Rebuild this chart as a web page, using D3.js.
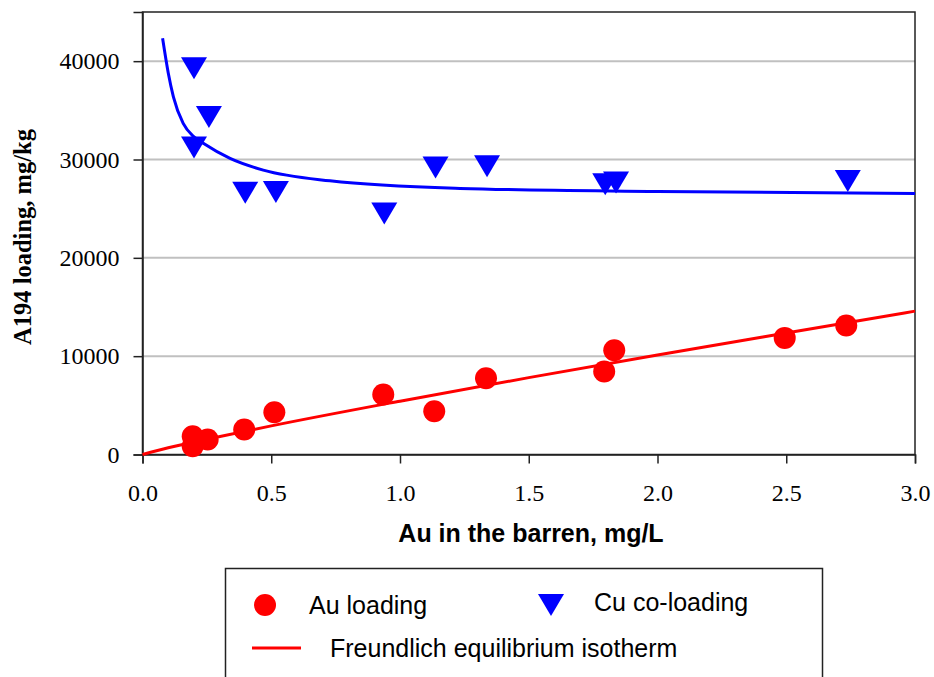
<!DOCTYPE html>
<html>
<head>
<meta charset="utf-8">
<script src="https://d3js.org/d3.v7.min.js"></script>
<style>
  body { margin: 0; background: #fff; }
  svg { display: block; }
</style>
</head>
<body>
<div id="chart"></div>
<script>
// Au loading (red circles)
const auX = [0.195, 0.195, 0.253, 0.395, 0.512, 0.935, 1.133, 1.334, 1.793, 1.832, 2.494, 2.733];
const auY = [1860, 845, 1525, 2540, 4300, 6100, 4400, 7760, 8440, 10610, 11860, 13120];
// Cu co-loading (blue triangles)
const cuX = [0.2, 0.258, 0.2, 0.399, 0.518, 0.939, 1.138, 1.338, 1.797, 1.839, 2.739];
const cuY = [39270, 34330, 31210, 26630, 26700, 24520, 29180, 29310, 27480, 27650, 27820];
// isotherm curves
const auFitX = [0, 0.1, 0.25, 0.5, 1.0, 1.5, 2.0, 2.5, 3.0];
const auFitY = [0, 680, 1550, 2910, 5424, 7820, 10120, 12360, 14580];
const cuFitX = [0.078, 0.1, 0.12, 0.158, 0.2, 0.236, 0.34, 0.469, 0.728, 1.233, 2.0, 3.0];
const cuFitY = [42320, 38800, 36380, 33670, 32300, 31640, 30110, 28920, 27830, 27060, 26750, 26550];
const xTicks = [0, 0.5, 1, 1.5, 2, 2.5, 3];
const yTicks = [0, 10000, 20000, 30000, 40000];

const W = 934, H = 677;
const m = {left: 142.5, right: 934 - 915, top: 12, bottom: 677 - 454.5};

const svg = d3.select('#chart').append('svg').attr('width', W).attr('height', H);

const x = d3.scaleLinear().domain([0, 3]).range([m.left, W - m.right]);
const y = d3.scaleLinear().domain([0, 45000]).range([H - m.bottom, m.top]);

// gridlines
svg.append('g').selectAll('line').data(yTicks.filter(d => d > 0)).enter()
  .append('line')
  .attr('x1', x(0)).attr('x2', x(3))
  .attr('y1', d => y(d)).attr('y2', d => y(d))
  .attr('stroke', '#c0c0c0').attr('stroke-width', 2);

// frame
svg.append('rect')
  .attr('x', x(0)).attr('y', y(45000))
  .attr('width', x(3) - x(0)).attr('height', y(0) - y(45000))
  .attr('fill', 'none').attr('stroke', '#222').attr('stroke-width', 1.5);

// axes
const xAxis = svg.append('g').attr('transform', `translate(0,${y(0)})`)
  .call(d3.axisBottom(x).tickValues(xTicks).tickFormat(d3.format('.1f')).tickSize(9).tickPadding(20));
const yAxis = svg.append('g').attr('transform', `translate(${x(0)},0)`)
  .call(d3.axisLeft(y).tickValues(yTicks).tickFormat(d => d).tickSize(9).tickPadding(14));
[xAxis, yAxis].forEach(a => {
  a.select('.domain').attr('stroke', '#222').attr('stroke-width', 1.5);
  a.selectAll('.tick line').attr('stroke', '#222').attr('stroke-width', 1.5);
  a.selectAll('text').attr('font-family', '"Liberation Serif", serif').attr('font-size', 24).attr('fill', '#000');
});

// axis titles
svg.append('text')
  .attr('x', 531).attr('y', 542)
  .attr('text-anchor', 'middle')
  .attr('font-family', '"Liberation Sans", Arial, sans-serif')
  .attr('font-weight', 'bold').attr('font-size', 25)
  .text('Au in the barren, mg/L');
svg.append('text')
  .attr('transform', 'translate(31,237) rotate(-90)')
  .attr('text-anchor', 'middle')
  .attr('font-family', '"Liberation Serif", serif')
  .attr('font-weight', 'bold').attr('font-size', 24.5)
  .text('A194 loading, mg/kg');

// fitted curves
const line = d3.line().x(d => x(d[0])).y(d => y(d[1])).curve(d3.curveMonotoneX);
svg.append('path')
  .datum(cuFitX.map((v, i) => [v, cuFitY[i]]))
  .attr('d', line).attr('fill', 'none').attr('stroke', '#0000ff').attr('stroke-width', 3);
svg.append('path')
  .datum(auFitX.map((v, i) => [v, auFitY[i]]))
  .attr('d', line).attr('fill', 'none').attr('stroke', '#ff0000').attr('stroke-width', 3);

// markers
const tri = 'M-13,-11L13,-11L0,11Z';
svg.append('g').selectAll('path').data(cuX.map((v, i) => [v, cuY[i]])).enter()
  .append('path')
  .attr('d', tri)
  .attr('transform', d => `translate(${x(d[0])},${y(d[1])})`)
  .attr('fill', '#0000ff');
svg.append('g').selectAll('circle').data(auX.map((v, i) => [v, auY[i]])).enter()
  .append('circle')
  .attr('cx', d => x(d[0])).attr('cy', d => y(d[1]))
  .attr('r', 11).attr('fill', '#ff0000');

// legend
const lg = svg.append('g');
lg.append('rect')
  .attr('x', 225.5).attr('y', 568.5).attr('width', 597).attr('height', 120)
  .attr('fill', '#fff').attr('stroke', '#222').attr('stroke-width', 1.5);
const lfont = '"Liberation Sans", Arial, sans-serif';
lg.append('circle').attr('cx', 265).attr('cy', 605).attr('r', 11).attr('fill', '#ff0000');
lg.append('text').attr('x', 309).attr('y', 614).attr('font-family', lfont).attr('font-size', 25).text('Au loading');
lg.append('path').attr('d', tri).attr('transform', 'translate(551,605)').attr('fill', '#0000ff');
lg.append('text').attr('x', 594).attr('y', 611).attr('font-family', lfont).attr('font-size', 25).text('Cu co-loading');
lg.append('line').attr('x1', 252).attr('x2', 301).attr('y1', 648).attr('y2', 648)
  .attr('stroke', '#ff0000').attr('stroke-width', 3);
lg.append('text').attr('x', 330).attr('y', 657).attr('font-family', lfont).attr('font-size', 25).text('Freundlich equilibrium isotherm');
</script>
</body>
</html>
